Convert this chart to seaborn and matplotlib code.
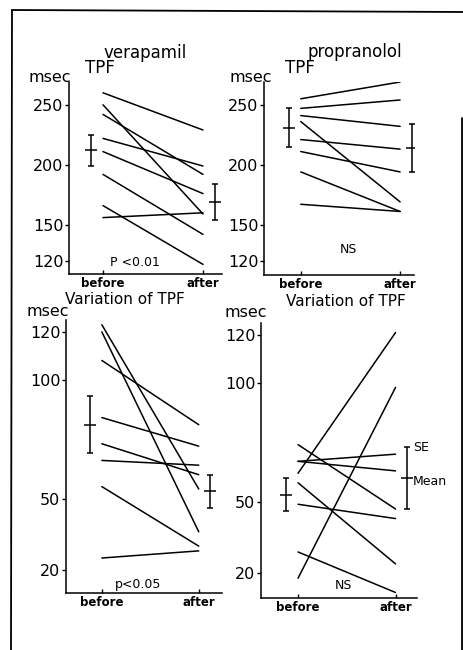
import numpy as np
import pandas as pd
import matplotlib
matplotlib.use('Agg')
import matplotlib.pyplot as plt
from matplotlib.lines import Line2D
import seaborn as sns

W, H = 464, 650

# individual patients, before -> after (msec)
vera_tpf_before = [260, 250, 242, 222, 211, 192, 166, 156]
vera_tpf_after = [229, 159, 192, 199, 176, 142, 117, 160]
vera_tpf_mean = [212, 169]
vera_tpf_se = [13, 15]

prop_tpf_before = [255, 247, 241, 236, 221, 211, 194, 167]
prop_tpf_after = [269, 254, 232, 169, 213, 194, 161, 161]
prop_tpf_mean = [231, 214]
prop_tpf_se = [16, 20]

vera_var_before = [123, 120, 108, 84, 73, 66, 55, 25]
vera_var_after = [54, 36, 81, 72, 60, 64, 30, 28]
vera_var_mean = [81, 53]
vera_var_se = [12, 7]

prop_var_before = [62, 18, 74, 67, 67, 58, 49, 29]
prop_var_after = [121, 98, 47, 70, 63, 24, 43, 12]
prop_var_mean = [53, 60]
prop_var_se = [7, 13]

tpf_ticks = [120, 150, 200, 250]
var_ticks = [20, 50, 100, 120]
time_labels = ['before', 'after']


def long_df(before, after):
    n = len(before)
    return pd.DataFrame({
        'subject': list(range(n)) * 2,
        'time': [0] * n + [1] * n,
        'value': list(before) + list(after),
    })


def px_axes(fig, left, right, top, bottom):
    return fig.add_axes([left / W, 1 - bottom / H, (right - left) / W, (bottom - top) / H])


def ftext(fig, x, y, s, **kw):
    fig.text(x / W, 1 - y / H, s, ha='center', va='center', **kw)


def panel(ax, before, after, mean, se, xlim, ylim, yticks, note, note_xy):
    sns.lineplot(data=long_df(before, after), x='time', y='value', units='subject',
                 estimator=None, color='black', lw=1.1, ax=ax, legend=False)
    ax.errorbar([-0.12, 1.12], mean, yerr=se, fmt='_', color='black', ms=8,
                mew=1.1, elinewidth=1.1, capsize=2.5, capthick=1.1)
    ax.set_xlim(*xlim)
    ax.set_ylim(*ylim)
    ax.set_yticks(yticks)
    ax.set_xticks([0, 1])
    ax.set_xticklabels(time_labels, fontsize=8.5, fontweight='bold')
    ax.set_xlabel('')
    ax.set_ylabel('')
    ax.tick_params(axis='y', labelsize=11.5, length=3, width=1, pad=1)
    ax.tick_params(axis='x', direction='in', length=3, width=1, pad=2)
    for s in ['top', 'right']:
        ax.spines[s].set_visible(False)
    for s in ['left', 'bottom']:
        ax.spines[s].set_linewidth(1.1)
        ax.spines[s].set_color('black')
    ax.text(note_xy[0], note_xy[1], note, ha='center', va='center', fontsize=9)


sns.set_style('ticks')
plt.rcParams['font.family'] = ['DejaVu Sans']
plt.rcParams.update({'text.color': 'black', 'axes.labelcolor': 'black',
                     'xtick.color': 'black', 'ytick.color': 'black',
                     'axes.edgecolor': 'black'})

fig = plt.figure(figsize=(W / 100, H / 100), dpi=100)

ax1 = px_axes(fig, 69, 222, 82, 274)
panel(ax1, vera_tpf_before, vera_tpf_after, vera_tpf_mean, vera_tpf_se,
      (-0.34, 1.19), (109, 269), tpf_ticks, 'P <0.01', (0.32, 119))

ax2 = px_axes(fig, 264, 414, 82, 275)
panel(ax2, prop_tpf_before, prop_tpf_after, prop_tpf_mean, prop_tpf_se,
      (-0.37, 1.14), (108, 269), tpf_ticks, 'NS', (0.48, 129))

ax3 = px_axes(fig, 66, 222, 320, 593)
panel(ax3, vera_var_before, vera_var_after, vera_var_mean, vera_var_se,
      (-0.37, 1.24), (10.3, 125), var_ticks, 'p<0.05', (0.37, 14))

ax4 = px_axes(fig, 261, 417, 323, 598)
panel(ax4, prop_var_before, prop_var_after, prop_var_mean, prop_var_se,
      (-0.38, 1.22), (9.7, 125), var_ticks, 'NS', (0.47, 15))
ax4.text(1.18, prop_var_mean[1] + prop_var_se[1], 'SE', ha='left', va='center', fontsize=9)
ax4.text(1.18, prop_var_mean[1] - 1.5, 'Mean', ha='left', va='center', fontsize=9)

ftext(fig, 145, 53, 'verapamil', fontsize=12)
ftext(fig, 100, 68, 'TPF', fontsize=12)
ftext(fig, 50, 77, 'msec', fontsize=11.5)
ftext(fig, 355, 52, 'propranolol', fontsize=12)
ftext(fig, 300, 68, 'TPF', fontsize=12)
ftext(fig, 251, 77, 'msec', fontsize=11.5)
ftext(fig, 125, 300, 'Variation of TPF', fontsize=11)
ftext(fig, 48, 311, 'msec', fontsize=11.5)
ftext(fig, 346, 302, 'Variation of TPF', fontsize=11)
ftext(fig, 246, 313, 'msec', fontsize=11.5)

# scanned page frame
fig.add_artist(Line2D([12 / W, 1], [1 - 10 / H, 1 - 12 / H], color='black', lw=1.3))
fig.add_artist(Line2D([12 / W, 11 / W], [1 - 10 / H, 0], color='black', lw=1.3))
fig.add_artist(Line2D([462 / W, 462 / W], [1 - 118 / H, 0], color='black', lw=1.3))

fig.savefig('out.png', dpi=100)
